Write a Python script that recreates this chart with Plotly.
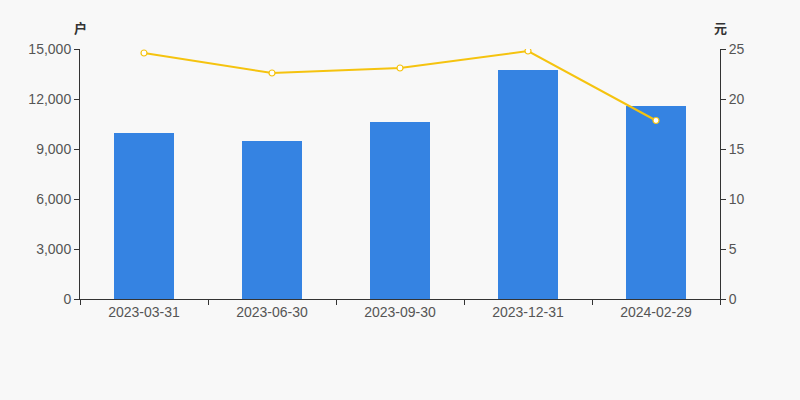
import plotly.graph_objects as go

categories = ["2023-03-31", "2023-06-30", "2023-09-30", "2023-12-31", "2024-02-29"]
holders = [9960, 9480, 10620, 13740, 11600]
avg_price = [24.6, 22.6, 23.1, 24.8, 17.85]
left_ticks = [0, 3000, 6000, 9000, 12000, 15000]
right_ticks = [0, 5, 10, 15, 20, 25]

font = dict(family="Liberation Sans, Arial, sans-serif", size=14, color="#555555")

fig = go.Figure()
fig.add_trace(go.Bar(x=categories, y=holders, marker=dict(color="#3583e2", line=dict(width=0)),
                     width=0.47, yaxis="y", hoverinfo="x+y"))
fig.add_trace(go.Scatter(x=categories, y=avg_price, yaxis="y2", mode="lines+markers",
                         line=dict(color="#f5c30f", width=2),
                         marker=dict(size=6, color="#ffffff", line=dict(color="#f5c30f", width=1.2))))

fig.update_layout(
    width=800, height=400,
    margin=dict(l=80, r=80, t=49, b=101),
    paper_bgcolor="#f8f8f8", plot_bgcolor="#f8f8f8",
    showlegend=False,
    font=font,
    bargap=0,
    xaxis=dict(type="category", showline=True, linecolor="#333333", linewidth=1,
               ticks="outside", tickson="boundaries", ticklen=5, tickcolor="#333333",
               showgrid=False, tickfont=font, range=[-0.5, 4.5]),
    yaxis=dict(range=[0, 15000], tickvals=left_ticks, tickformat=",d", showline=True,
               linecolor="#333333", linewidth=1, ticks="outside", ticklen=5, tickcolor="#333333",
               showgrid=False, zeroline=False, tickfont=font),
    yaxis2=dict(range=[0, 25], tickvals=right_ticks, overlaying="y", side="right", showline=True,
                linecolor="#333333", linewidth=1, ticks="outside", ticklen=5, tickcolor="#333333",
                showgrid=False, zeroline=False, tickfont=font),
)
unit_font = dict(family="Noto Sans CJK SC", size=13, color="#333333")
fig.add_annotation(text="<b>户</b>", xref="x domain", yref="y domain", x=0, y=1, yshift=22,
                   xanchor="center", yanchor="middle", showarrow=False, font=unit_font)
fig.add_annotation(text="<b>元</b>", xref="x domain", yref="y domain", x=1, y=1, yshift=22,
                   xanchor="center", yanchor="middle", showarrow=False, font=unit_font)

fig.write_html("out.html", config={"displayModeBar": False},
               post_script="document.body.style.margin='0';")
